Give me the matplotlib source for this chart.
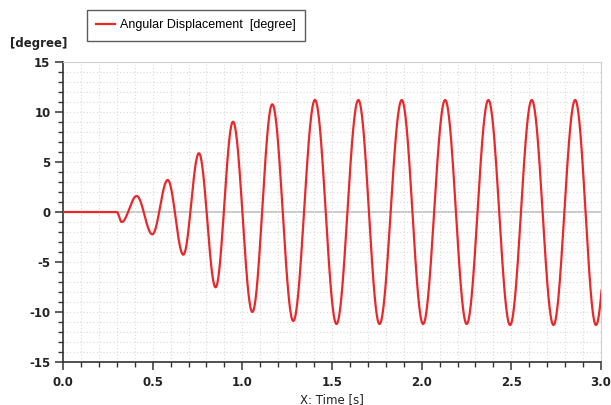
import numpy as np
import matplotlib
matplotlib.use("Agg")
import matplotlib.pyplot as plt
from matplotlib.ticker import MultipleLocator

# turning points of the angular displacement curve
peak_times = [0.300, 0.327, 0.411, 0.498, 0.584, 0.671, 0.758, 0.851, 0.948,
              1.056, 1.167, 1.284, 1.405, 1.525, 1.647, 1.765, 1.889, 2.008,
              2.131, 2.251, 2.372, 2.493, 2.614, 2.735, 2.856, 2.972, 3.093]
peak_values = [0.0, -1.0, 1.6, -2.23, 3.2, -4.27, 5.87, -7.53, 9.03,
               -10.0, 10.77, -10.9, 11.2, -11.2, 11.2, -11.2, 11.2, -11.2,
               11.2, -11.2, 11.2, -11.3, 11.2, -11.3, 11.2, -11.3, 11.2]

series_label = "Angular Displacement  [degree]"
y_unit = "[degree]"
x_label = "X: Time [s]"

red = "#e8282b"
dark = "#333333"

plt.rcParams["axes.unicode_minus"] = False

# rest before the motion starts, then half-cosine arcs between turning points
t = [0.0]
y = [0.0]
for i in range(len(peak_times) - 1):
    t0, t1 = peak_times[i], peak_times[i + 1]
    y0, y1 = peak_values[i], peak_values[i + 1]
    s = np.linspace(0, 1, 40)
    t.extend(t0 + (t1 - t0) * s)
    y.extend(y0 + (y1 - y0) * (1 - np.cos(np.pi * s)) / 2)

fig = plt.figure(figsize=(6.11, 4.05), dpi=100)
ax = fig.add_axes([63 / 611, 1 - 362 / 405, 538 / 611, 300 / 405])

ax.axhline(0, color="#c4c4c4", lw=1.3, zorder=1)
ax.plot(t, y, color=red, lw=1.6, label=series_label, zorder=3)

ax.set_xlim(0, 3.0)
ax.set_ylim(-15, 15)
ax.xaxis.set_major_locator(MultipleLocator(0.5))
ax.xaxis.set_minor_locator(MultipleLocator(0.1))
ax.yaxis.set_major_locator(MultipleLocator(5))
ax.yaxis.set_minor_locator(MultipleLocator(1))
ax.xaxis.set_major_formatter(matplotlib.ticker.FormatStrFormatter("%.1f"))

ax.grid(which="both", linestyle=(0, (1, 2)), color="#dadada", lw=0.8, zorder=0)

for side in ["top", "right"]:
    ax.spines[side].set_color("#cfcfcf")
for side in ["left", "bottom"]:
    ax.spines[side].set_color(dark)
    ax.spines[side].set_linewidth(1.2)

ax.tick_params(which="major", length=6, width=1.1, color=dark,
               labelsize=8.5, pad=3)
ax.tick_params(which="minor", length=3.5, width=1.0, color=dark)
ax.tick_params(axis="x", which="major", pad=4)
for lab in ax.get_xticklabels() + ax.get_yticklabels():
    lab.set_fontweight("bold")
    lab.set_color("#222222")

ax.set_xlabel(x_label, fontsize=8.5, color="#222222", labelpad=3)
fig.text(10 / 611, 1 - 43 / 405, y_unit, fontsize=8.5, fontweight="bold",
         color="#222222", va="center", ha="left")

leg = fig.legend(loc="upper left", bbox_to_anchor=(87 / 611, 1 - 10 / 405),
                 borderaxespad=0, frameon=True, fancybox=False,
                 prop={"family": "Liberation Sans", "size": 9},
                 handlelength=1.5, handletextpad=0.4,
                 borderpad=0.75)
leg.get_frame().set_edgecolor(dark)
leg.get_frame().set_linewidth(1.0)

fig.savefig("out.png", dpi=100)
